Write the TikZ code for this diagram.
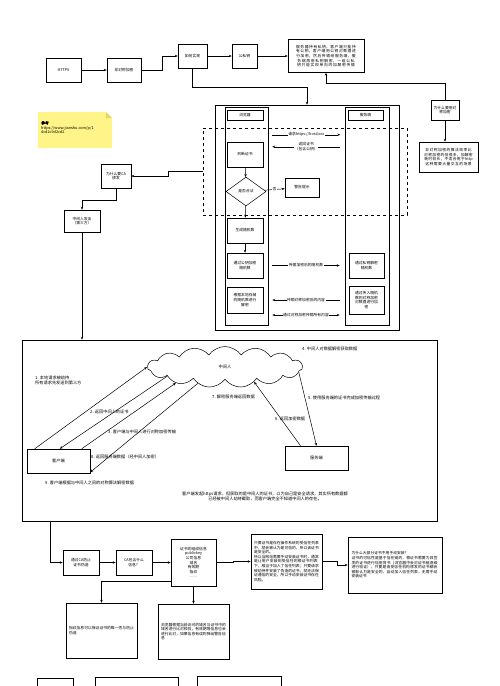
\documentclass[tikz,border=0pt]{standalone}
\usepackage{fontspec}
\setmainfont{Noto Sans CJK SC}[AutoFakeBold=2]
\XeTeXlinebreaklocale "zh"
\XeTeXlinebreakskip=0pt plus 1pt
\usetikzlibrary{arrows.meta,shapes.geometric,shapes.symbols}
\newcommand{\boxtxt}{\fontsize{3.8}{4.6}\selectfont}
\newcommand{\lbltxt}{\fontsize{4.2}{5.2}\selectfont}
\definecolor{notey}{RGB}{255,244,135}
\definecolor{foldc}{RGB}{225,215,110}

\begin{document}
\begin{tikzpicture}[x=1pt,y=-1pt,
    box/.style={draw,line width=0.5pt,align=center,font=\boxtxt,inner sep=1pt},
    arr/.style={-{Stealth[length=3pt,width=2.4pt]},line width=0.5pt},
    dbl/.style={{Stealth[length=3pt,width=2.4pt]}-{Stealth[length=3pt,width=2.4pt]}},
    lbl/.style={font=\boxtxt,fill=white,inner sep=0.5pt,align=center},
    tag/.style={font=\lbltxt,align=left,anchor=west,inner sep=0pt}]
  \useasboundingbox (0,0) rectangle (500,686);

  % top row
  \node[box,minimum width=35pt,minimum height=24pt] (https) at (63.5,70) {HTTPS};
  \node[box,minimum width=34pt,minimum height=24pt] (asym) at (124,70) {非对称加密};
  \node[box,minimum width=29pt,minimum height=24pt] (how) at (192.5,56) {如何实现};
  \node[box,minimum width=25pt,minimum height=24pt] (keys) at (244.5,56) {公私钥};
  \node[box,minimum width=76pt,minimum height=33pt,text width=68pt] (oneway) at (326,56)
    {服务器持有私钥，客户端只能持有公钥，客户端用公钥对数据进行加密，然后传输给服务端，服务端再用私钥解密，一组公私钥只能实现单向的加解密传输};
  \node[box,minimum width=28pt,minimum height=20pt] (whysym) at (445,110) {为什么要用对\\称加密};
  \node[box,minimum width=59pt,minimum height=30pt,text width=53pt] (slow) at (448.5,157)
    {非对称加密的算法效率比对称加密的低很多，加解密耗时较长，不适合用于http这种需要大量交互的场景};

  % note
  \fill[notey] (38,112) -- (106,112) -- (112,118) -- (112,148) -- (38,148) -- cycle;
  \fill[foldc] (106,112) -- (106,118) -- (112,118) -- cycle;
  \node[tag,anchor=north west,font=\boxtxt] (ref) at (41,121)
    {\textbf{参考}\\https://www.jianshu.com/p/1\\4cd2c9d2cd2};

  % handshake
  \node[draw,line width=0.5pt,minimum width=184pt,minimum height=225pt] (frame) at (307,217.5) {};
  \node[draw,line width=0.5pt,minimum width=43pt,minimum height=218pt] (bcol) at (246.5,216) {};
  \node[draw,line width=0.5pt,minimum width=44pt,minimum height=218pt] (scol) at (367,216) {};
  \node[box,minimum width=36pt,minimum height=10pt] (browser) at (245,115) {浏览器};
  \node[box,minimum width=35pt,minimum height=10pt] (server) at (365.5,115) {服务端};
  \node[draw,dashed,line width=0.5pt,minimum width=204pt,minimum height=87pt] (hs) at (305,171.5) {};
  \node[box,minimum width=36pt,minimum height=25pt] (check) at (245,154.5) {判断证书};
  \node[box,diamond,aspect=1.4,inner sep=0pt,minimum width=40pt,minimum height=29pt] (valid) at (246,191.5) {是否合法};
  \node[box,minimum width=34pt,minimum height=19pt] (warn) at (302,187.5) {警告提示};
  \node[box,minimum width=36pt,minimum height=25pt] (rand) at (245,230.5) {生成随机数};
  \node[box,minimum width=36pt,minimum height=25pt] (enc) at (245,265.5) {通过公钥加密\\随机数};
  \node[box,minimum width=36pt,minimum height=26pt] (dec) at (245,300) {根据本地存储\\的随机数进行\\解密};
  \node[box,minimum width=35pt,minimum height=25pt] (sdec) at (366.5,265.5) {通过私钥解密\\随机数};
  \node[box,minimum width=35pt,minimum height=28pt] (senc) at (366.5,300) {通过传入随机\\数的对称加密\\对数据进行加\\密};

  % left side
  \node[box,minimum width=30pt,minimum height=24pt] (whyca) at (116,176) {为什么要CA\\颁发};
  \node[box,minimum width=36pt,minimum height=22pt] (attack) at (82,221) {中间人攻击\\（第三方）};

  % man in the middle
  \node[draw,line width=0.5pt,minimum width=415pt,minimum height=181pt] (mid) at (229.5,430.5) {};
  \node[draw,line width=0.5pt,cloud,cloud puffs=15,cloud puff arc=110,cloud ignores aspect,
    minimum width=155pt,minimum height=41pt,font=\lbltxt] (man) at (225,367) {中间人};
  \node[box,font=\lbltxt,minimum width=63pt,minimum height=24pt] (client) at (58.5,461) {客户端};
  \node[box,font=\lbltxt,minimum width=63pt,minimum height=24pt] (srv) at (316.5,458) {服务端};
  \node[tag] (t4) at (302,349) {4. 中间人对数据解密获取数据};
  \node[tag] (t1) at (35,380.5) {1. 本地请求被劫持\\所有请求先发送到第三方};
  \node[tag] (t2) at (90,412) {2. 返回中间人的证书};
  \node[tag] (t3) at (108,432) {3. 客户端与中间人进行对称加密传输};
  \node[tag] (t5) at (308,398) {5. 使用服务端的证书完成加密传输过程};
  \node[tag] (t6) at (275,419) {6. 返回加密数据};
  \node[tag] (t7) at (212,397) {7. 解密服务端返回数据};
  \node[tag] (t8) at (91,457) {8. 返回服务端数据（经中间人加密）};
  \node[tag] (t9) at (45,483) {9. 客户端根据与中间人之间的对称算法解密数据};
  \node[font=\lbltxt,align=center,inner sep=0pt] (sum) at (265,496.5)
    {客户端发起https请求，但获取的是中间人的证书，以为自己是安全请求，其实所有数据都\\已经被中间人劫持截取，而客户端完全不知道中间人的存在。};

  % certificates
  \node[box,minimum width=36pt,minimum height=25pt] (viaca) at (81,562.5) {通过CA防止\\证书伪造};
  \node[box,minimum width=36pt,minimum height=25pt] (cainfo) at (134,562.5) {CA包含什么\\信息？};
  \node[box,minimum width=45pt,minimum height=47pt] (certinfo) at (193.5,562.5)
    {证书的组成信息\\publickey\\公司信息\\域名\\有效期\\指纹\\……};
  \node[box,align=left,minimum width=71pt,minimum height=55pt,text width=65pt] (trust) at (286.5,561.5)
    {只要证书是存在操作系统的受信任列表中，就会被认为是可信的，所以该证书是安全的。\\所以当网站需要手动安装证书时，通常是让用户安装到受信任的根证书列表下，相当于加入了信任列表；只要请求被劫持并安装了伪造的证书，就无法保证通信的安全，所以手动安装证书存在风险。};
  \node[box,align=left,minimum width=94pt,minimum height=56pt,text width=87pt] (nomanual) at (395,565)
    {为什么大部分证书不用手动安装？\\证书的可信性是基于信任链的，根证书需要为其签发的证书进行信用背书（浏览器中会对证书链逐级进行验证），只要是由受信任机构颁发的证书都会被默认为是安全的，自动加入信任列表，无需手动安装证书};
  \node[box,align=left,minimum width=71pt,minimum height=55pt,text width=65pt] (finger) at (101.5,630.5)
    {指纹信息可以保证证书的唯一性与防止伪造};
  \node[box,align=left,minimum width=71pt,minimum height=55pt,text width=65pt] (domain) at (193.5,631.5)
    {浏览器根据当前访问的域名与证书中的域名进行比对校验，有效期等信息也会进行比对，如果信息有误则弹出警告信息};
  \begin{scope}
    \clip (0,0) rectangle (500,686);
    \node[box,minimum width=36pt,minimum height=24pt] (more1) at (55,690) {};
    \node[box,minimum width=83pt,minimum height=26pt] (more2) at (136.5,690) {};
    \node[box,minimum width=84pt,minimum height=28pt] (more3) at (239,690) {};
  \end{scope}

  \begin{scope}[arr]
    \draw (https) to (asym);
    \draw (asym.east) -- ++(21,0) |- (how.west);
    \draw (how) to (keys);
    \draw (keys) to (oneway);
    \draw (how.south) -- ++(0,19) -| (frame.north);
    \draw (whysym.north) -- ++(0,-17) -| (oneway.south);
    \draw (whysym.south) -- (whysym.south |- slow.north);
    \draw ([xshift=9pt,yshift=7pt]check.north east) -- node[lbl]{请求https://host/xxx} ++(68,0);
    \draw ([xshift=77pt,yshift=-5pt]check.north east) -- node[lbl]{返回证书\\（包含公钥）} ++(-68,0);
    \draw (check) to (valid);
    \draw (valid) -- node[lbl]{否} (warn);
    \draw (valid) to (rand);
    \draw (rand) to (enc);
    \draw ([xshift=9pt]enc.east) -- node[lbl]{传输加密后的随机数} ([xshift=-9pt]sdec.west);
    \draw ([xshift=-9pt]senc.west) -- node[lbl]{传输对称加密后的内容} ([xshift=9pt]dec.east);
    \draw[dbl] ([xshift=9pt,yshift=-15pt]dec.east) -- node[lbl]{通过对称加密传输所有内容} ([xshift=-9pt,yshift=-15pt]senc.west);
    \draw (hs.west) -- ++(-35,0) |- (whyca.east);
    \draw (whyca.south) -- ++(0,12) -| (attack.north);
    \draw (attack.south) -- (attack.south |- mid.north);
    \draw ([xshift=8pt]client.north west) -- (man.180);
    \draw (man.189) -- ([xshift=33pt]client.north west);
    \draw ([xshift=55pt]client.north west) -- (man.198);
    \draw (man.211) -- ([yshift=1pt]client.south east);
    \draw (man.356) -- (srv.north);
    \draw ([xshift=-16pt]srv.north) -- (man.333);
    \draw ([xshift=28pt]mid.south west) |- (viaca.west);
    \draw (viaca) to (cainfo);
    \draw (cainfo) to (certinfo);
    \draw (certinfo.east) -- ++(17,0) |- (trust.west);
    \draw (trust.east) -- ++(15,0) |- (nomanual.west);
    \draw ([yshift=-18.5pt]certinfo.west) -| (finger.north);
    \draw (certinfo.south) -- (domain.north);
  \end{scope}
\end{tikzpicture}
\end{document}
